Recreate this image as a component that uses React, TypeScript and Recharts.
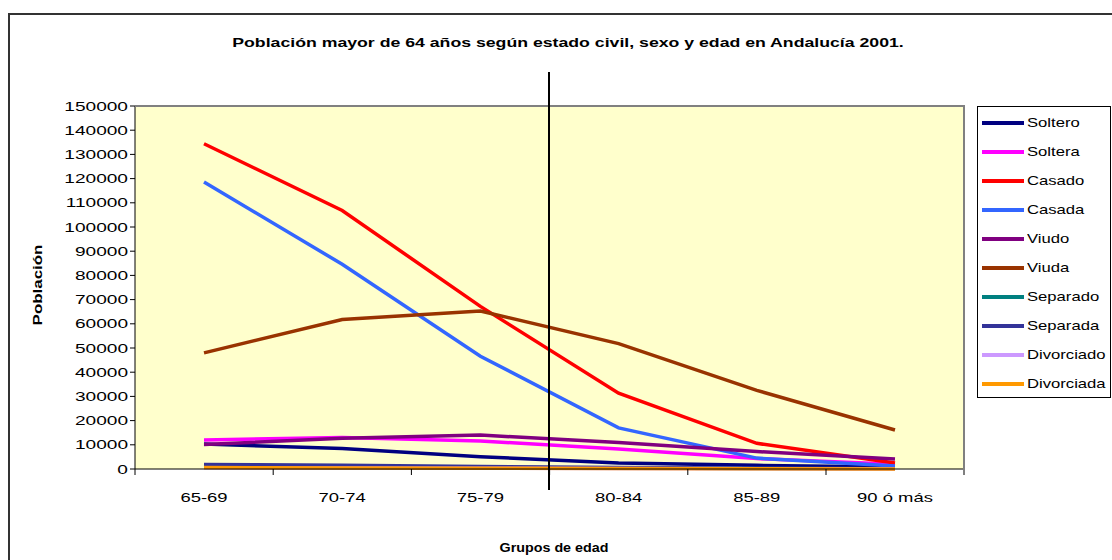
import React from 'react'
import { LineChart, Line, XAxis, YAxis, CartesianGrid } from 'recharts'

const grupos = ['65-69', '70-74', '75-79', '80-84', '85-89', '90 ó más']
const yTicks = [0, 10000, 20000, 30000, 40000, 50000, 60000, 70000, 80000, 90000, 100000, 110000, 120000, 130000, 140000, 150000]

const soltero = [10300, 8500, 5100, 2500, 1500, 800]
const soltera = [12000, 13000, 11600, 8300, 4300, 2000]
const casado = [134400, 106800, 67200, 31300, 10600, 2500]
const casada = [118600, 84600, 46600, 17000, 4500, 1200]
const viudo = [10100, 12700, 14000, 10900, 7200, 4100]
const viuda = [48000, 61800, 65300, 51800, 32500, 16100]
const separado = [1300, 1000, 700, 400, 200, 100]
const separada = [1900, 1500, 1000, 600, 300, 100]
const divorciado = [500, 400, 300, 200, 100, 50]
const divorciada = [600, 450, 300, 200, 100, 50]

const series = [
  { key: 'Soltero', values: soltero, color: '#000080' },
  { key: 'Soltera', values: soltera, color: '#FF00FF' },
  { key: 'Casado', values: casado, color: '#FF0000' },
  { key: 'Casada', values: casada, color: '#3366FF' },
  { key: 'Viudo', values: viudo, color: '#800080' },
  { key: 'Viuda', values: viuda, color: '#993300' },
  { key: 'Separado', values: separado, color: '#008080' },
  { key: 'Separada', values: separada, color: '#333399' },
  { key: 'Divorciado', values: divorciado, color: '#CC99FF' },
  { key: 'Divorciada', values: divorciada, color: '#FF9900' },
]

const data = grupos.map((g, i) => {
  const row: Record<string, string | number> = { grupo: g }
  series.forEach(s => { row[s.key] = s.values[i] })
  return row
})

const FONT = '"Liberation Sans", Arial, sans-serif'
const HALF = 69
// the source picture is stretched sideways, so text is widened to match
const STRETCH = 1.42

const XTick = (props: any) => {
  const { x, y, payload, index } = props
  const last = index === grupos.length - 1
  return (
    <g>
      <line x1={x - HALF} x2={x - HALF} y1={y - 8} y2={y - 2} stroke="#000" />
      {last && <line x1={x + HALF} x2={x + HALF} y1={y - 8} y2={y - 2} stroke="#000" />}
      <text transform={`translate(${x},${y + 25}) scale(${STRETCH},1)`} textAnchor="middle" fontSize={13} fontFamily={FONT} fill="#000">{payload.value}</text>
    </g>
  )
}

const YTick = (props: any) => {
  const { x, y, payload } = props
  return (
    <text transform={`translate(${x},${y + 4.5}) scale(${STRETCH + 0.05},1)`} textAnchor="end" fontSize={13} fontFamily={FONT} fill="#000">{payload.value}</text>
  )
}

const LegendBox = () => (
  <div style={{ position: 'absolute', left: 977, top: 106, border: '1px solid #000', background: '#fff', width: 134, height: 292, boxSizing: 'border-box', paddingTop: 1, fontFamily: FONT, fontSize: 13 }}>
    {series.map(s => (
      <div key={s.key} style={{ display: 'flex', alignItems: 'center', height: 29 }}>
        <span style={{ display: 'inline-block', width: 42, height: 4, background: s.color, marginLeft: 4, marginRight: 3, flexShrink: 0 }} />
        <span style={{ display: 'inline-block', transform: 'scaleX(1.28)', transformOrigin: 'left center', whiteSpace: 'nowrap' }}>{s.key}</span>
      </div>
    ))}
  </div>
)

export default function App() {
  return (
    <div style={{ position: 'absolute', left: 0, top: 0, width: 1112, height: 560, background: '#fff', overflow: 'hidden', fontFamily: FONT }}>
      <div style={{ position: 'absolute', left: 8, top: 13, width: 1200, height: 700, borderLeft: '2px solid #333', borderTop: '2px solid #333' }} />
      <div style={{ position: 'absolute', left: 568, top: 35, transform: 'translateX(-50%) scaleX(1.36)', fontWeight: 'bold', fontSize: 13, whiteSpace: 'nowrap' }}>
        Población mayor de 64 años según estado civil, sexo y edad en Andalucía 2001.
      </div>
      <LineChart width={1112} height={560} data={data} margin={{ top: 106, right: 148, left: 0, bottom: 61 }}>
        <CartesianGrid fill="#FFFFCC" horizontal={false} vertical={false} />
        <XAxis dataKey="grupo" padding={{ left: HALF, right: HALF }} tickLine={false} axisLine={{ stroke: '#000' }} tick={<XTick />} height={30} interval={0} />
        <YAxis domain={[0, 150000]} ticks={yTicks} interval={0} width={135} tickSize={5} tickMargin={2} axisLine={{ stroke: '#000' }} tickLine={{ stroke: '#000' }} tick={<YTick />} />
        {series.map(s => (
          <Line key={s.key} dataKey={s.key} stroke={s.color} strokeWidth={3.5} dot={false} isAnimationActive={false} />
        ))}
      </LineChart>
      <LegendBox />
      <div style={{ position: 'absolute', left: 135, top: 105, width: 828, height: 363, borderTop: '2px solid #808080', borderRight: '2px solid #808080', pointerEvents: 'none' }} />
      <div style={{ position: 'absolute', left: 548, top: 72, width: 2, height: 418, background: '#000' }} />
      <div style={{ position: 'absolute', left: 37, top: 285, transform: 'translate(-50%, -50%) rotate(-90deg) scaleX(1.3)', fontWeight: 'bold', fontSize: 13, whiteSpace: 'nowrap' }}>
        Población
      </div>
      <div style={{ position: 'absolute', left: 554, top: 540, transform: 'translateX(-50%) scaleX(1.1)', fontWeight: 'bold', fontSize: 13, whiteSpace: 'nowrap' }}>
        Grupos de edad
      </div>
    </div>
  )
}
